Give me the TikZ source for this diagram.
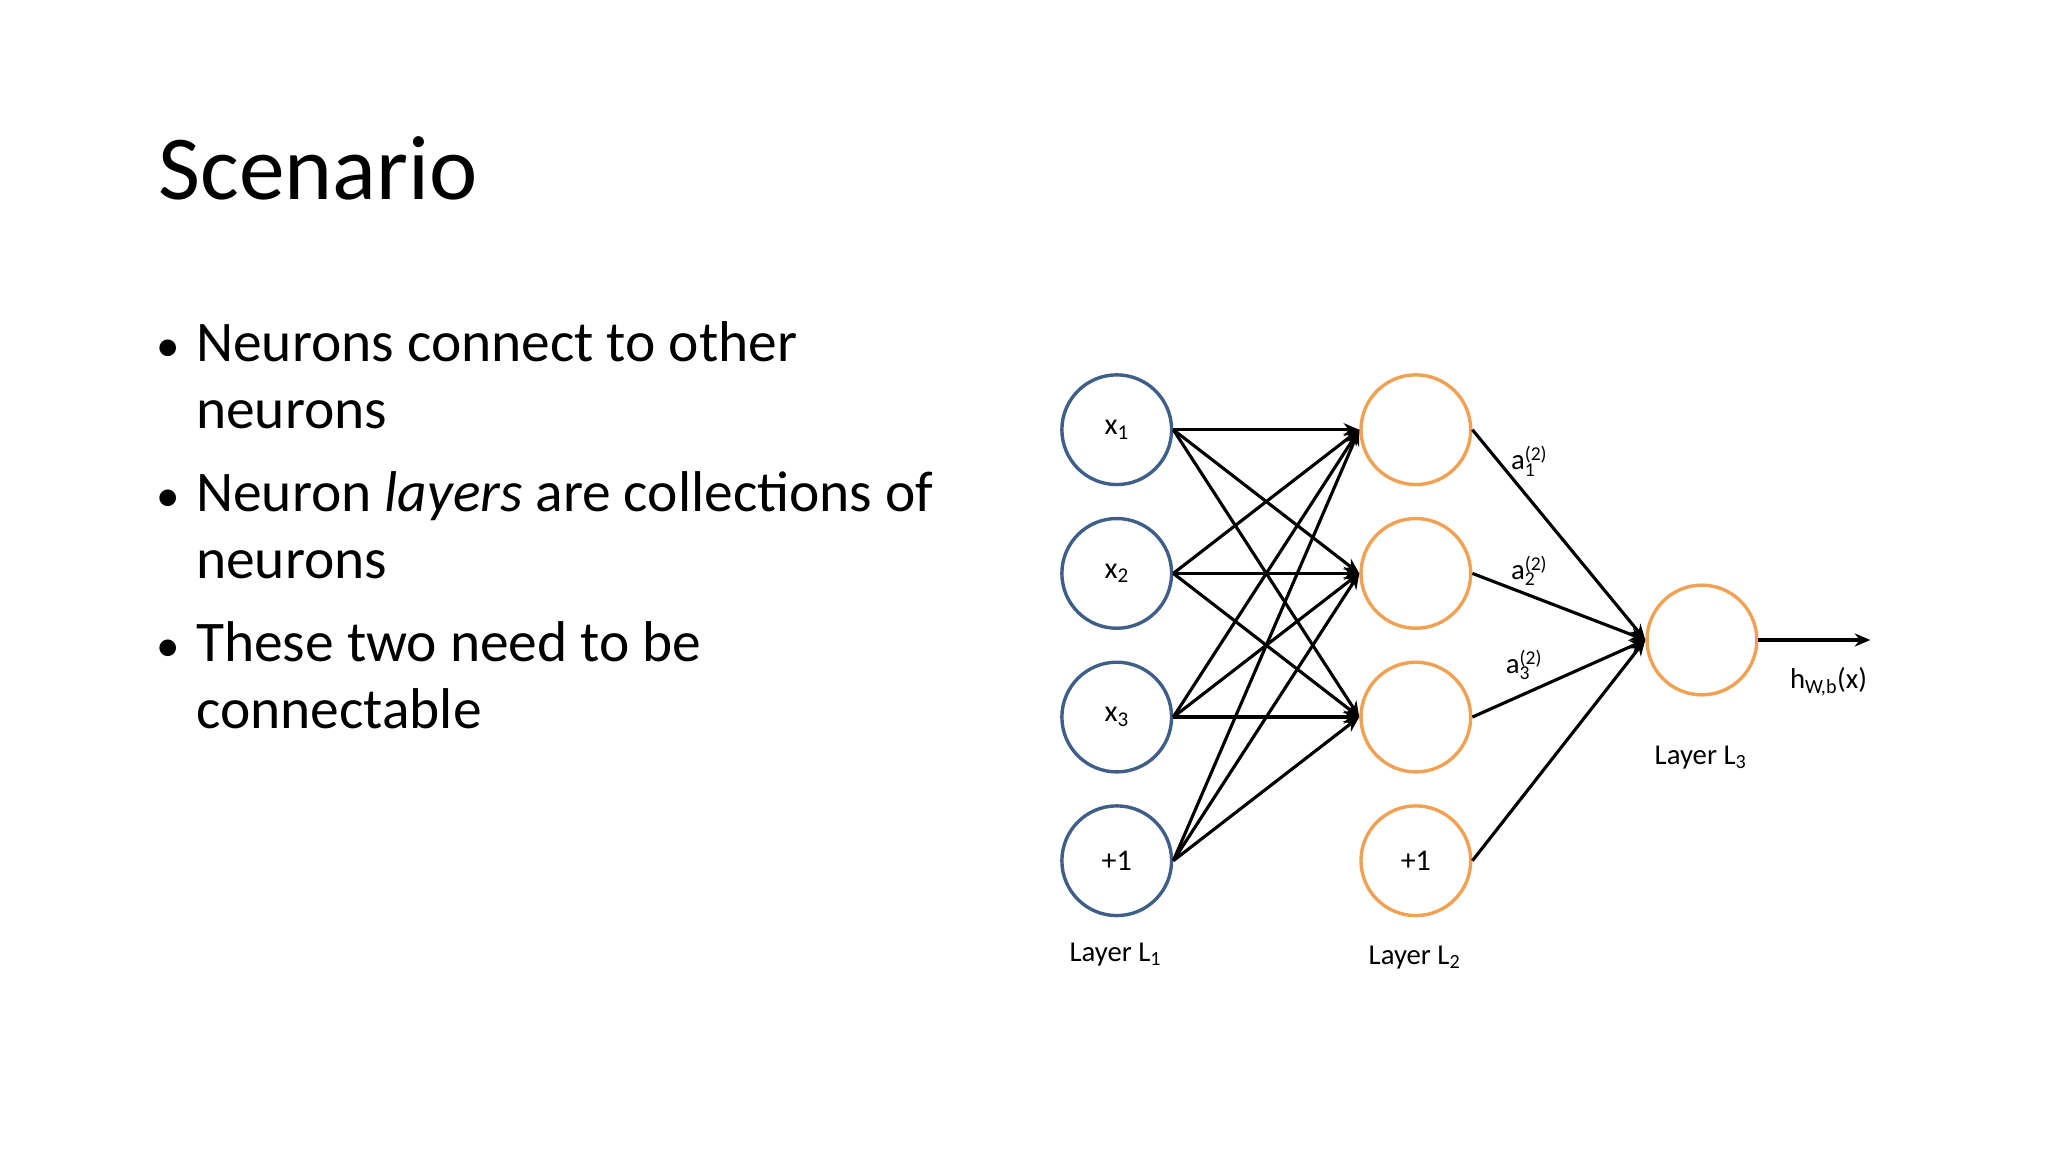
\documentclass[tikz,border=0pt]{standalone}
\usepackage{fontspec}
\setmainfont{Carlito}
\usetikzlibrary{arrows.meta}
\definecolor{nblue}{HTML}{3E5F8A}
\definecolor{norange}{HTML}{F2A152}
\newcommand{\actlab}[1]{a\rlap{\raisebox{7pt}{\fontsize{15}{15}\selectfont(2)}}\raisebox{-5pt}{\fontsize{15}{15}\selectfont #1}\hspace{14pt}}
\newcommand{\bulmark}{\makebox[30pt][l]{\fontsize{36}{36}\selectfont•}}
\newcommand{\bulind}{\hspace*{30pt}}
\begin{document}
\begin{tikzpicture}[x=1pt,y=-1pt,
  neu/.style={circle,draw=#1,line width=2.6pt,minimum size=84pt,inner sep=0pt,font=\fontsize{23}{25}\selectfont},
  lbl/.style={font=\fontsize{22}{25}\selectfont},
  con/.style={line width=2.4pt,-{Stealth[length=12pt,width=10pt]}},
  bul/.style={anchor=north west,align=left,inner sep=0pt,font=\fontsize{44}{51}\selectfont}]
\useasboundingbox (0,0) rectangle (1568,882);
\node[anchor=base west,font=\fontsize{70}{76}\selectfont] (title) at (118,153) {Scenario};
\node[bul] (b1) at (120,246) {\bulmark Neurons connect to other\\\bulind neurons};
\node[bul] (b2) at (120,361) {\bulmark Neuron \textit{layers} are collections of\\\bulind neurons};
\node[bul] (b3) at (120,476) {\bulmark These two need to be\\\bulind connectable};
\node[neu=nblue] (x1) at (855,329) {x\textsubscript{1}};
\node[neu=nblue] (x2) at (855,439) {x\textsubscript{2}};
\node[neu=nblue] (x3) at (855,549) {x\textsubscript{3}};
\node[neu=nblue] (b1n) at (855,659) {+1};
\node[neu=norange] (h1) at (1084,329) {};
\node[neu=norange] (h2) at (1084,439) {};
\node[neu=norange] (h3) at (1084,549) {};
\node[neu=norange] (h4) at (1084,659) {+1};
\node[neu=norange] (o) at (1303,490) {};
\coordinate (end) at (1432,490);
\foreach \s in {x1,x2,x3,b1n}
  \foreach \t in {h1,h2,h3}
    \draw[con] (\s.east) -- (\t.west);
\foreach \s in {h1,h2,h3,h4}
  \draw[con] (\s.east) -- (o.west);
\draw[con] (o.east) -- (end);
\node[lbl] (l1) at (854,731) {Layer L\textsubscript{1}};
\node[lbl] (l2) at (1083,733) {Layer L\textsubscript{2}};
\node[lbl] (l3) at (1302,580) {Layer L\textsubscript{3}};
\node[lbl] (hx) at (1400,522) {h\textsubscript{W,b}(x)};
\node[lbl] (a1) at (1166,353) {\actlab{1}};
\node[lbl] (a2) at (1166,437) {\actlab{2}};
\node[lbl] (a3) at (1162,509) {\actlab{3}};
\end{tikzpicture}
\end{document}
